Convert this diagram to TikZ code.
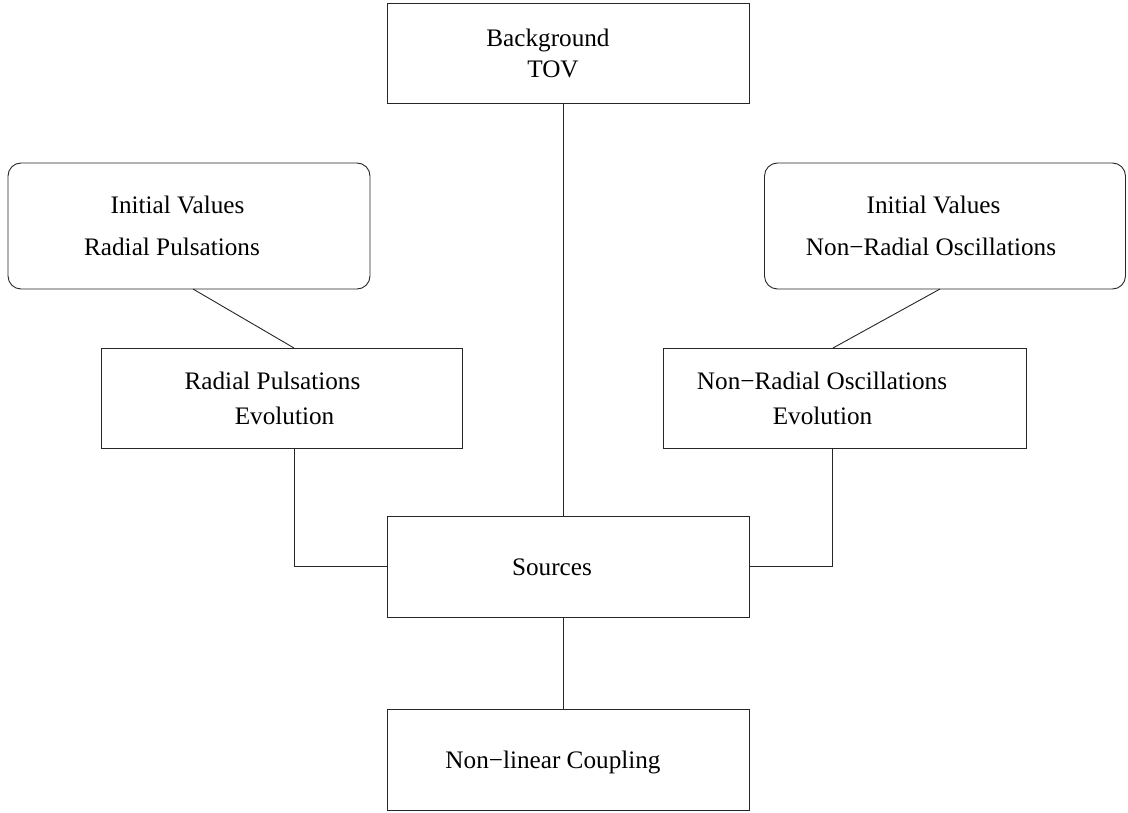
\documentclass[tikz,border=0pt]{standalone}
\usepackage{fontspec}
\setmainfont{Liberation Serif}
\begin{document}
\begin{tikzpicture}[x=1pt,y=-1pt,
  box/.style={draw=black!85,line width=0.9pt,inner sep=0pt,outer sep=0pt,minimum width=362pt},
  rbox/.style={box,rounded corners=13pt},
  lbl/.style={anchor=base,inner sep=0pt,font=\fontsize{25.2}{30}\selectfont},
  wire/.style={draw=black!85,line width=0.9pt}]
\useasboundingbox (0,0) rectangle (1128,813);
% boxes
\node[box,minimum height=100pt] (bg) at (568,53) {};
\node[rbox,minimum height=126pt] (ivr) at (189,226) {};
\node[rbox,minimum height=126pt,minimum width=361pt] (ivn) at (945,226) {};
\node[box,minimum height=100pt,minimum width=361pt] (rpe) at (281.5,398) {};
\node[box,minimum height=100pt,minimum width=363pt] (nre) at (844.5,398) {};
\node[box,minimum height=101pt] (src) at (568,566.5) {};
\node[box,minimum height=101pt] (nl) at (568,759.5) {};
% texts
\node[lbl] (t1) at (548,47) {Background};
\node[lbl] (t2) at (553,78) {TOV};
\node[lbl] (t3) at (177.5,214) {Initial Values};
\node[lbl] (t4) at (172,256) {Radial Pulsations};
\node[lbl] (t5) at (933.5,214) {Initial Values};
\node[lbl] (t6) at (931,256) {Non−Radial Oscillations};
\node[lbl] (t7) at (272.5,389) {Radial Pulsations};
\node[lbl] (t8) at (284.5,424) {Evolution};
\node[lbl] (t9) at (822,389) {Non−Radial Oscillations};
\node[lbl] (t10) at (822.5,424) {Evolution};
\node[lbl] (t11) at (552,575) {Sources};
\node[lbl] (t12) at (553,768) {Non−linear Coupling};
% x positions of connector ends
\coordinate (cx) at (563,0);
\coordinate (a1) at (193,0);
\coordinate (a2) at (294,0);
\coordinate (b1) at (940,0);
\coordinate (b2) at (833,0);
\coordinate (lx) at (294,0);
\coordinate (rx) at (832,0);
% connectors
\draw[wire] (bg.south -| cx) -- (src.north -| cx);
\draw[wire] (src.south -| cx) -- (nl.north -| cx);
\draw[wire] (ivr.south -| a1) -- (rpe.north -| a2);
\draw[wire] (ivn.south -| b1) -- (nre.north -| b2);
\draw[wire] (rpe.south -| lx) |- (src.west);
\draw[wire] (nre.south -| rx) |- (src.east);
\end{tikzpicture}
\end{document}
